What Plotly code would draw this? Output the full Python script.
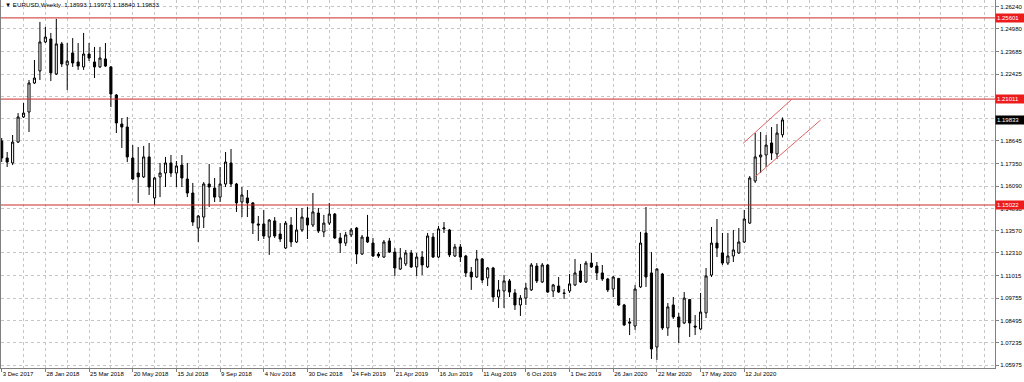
import plotly.graph_objects as go

# ---------------- data (weekly EURUSD, week index 0 = 3 Dec 2017) ----------------
week_index = list(range(144))

open_prices = [
    1.1864, 1.1768, 1.1740, 1.1858, 1.2000, 1.2028, 1.2192, 1.2260, 1.2424, 1.2441,
    1.2243, 1.2413, 1.2294, 1.2362, 1.2311, 1.2283, 1.2356, 1.2311, 1.2283, 1.2328,
    1.2283, 1.2124, 1.1960, 1.1943, 1.1768, 1.1683, 1.1661, 1.1774, 1.1542, 1.1661,
    1.1683, 1.1740, 1.1683, 1.1728, 1.1649, 1.1570, 1.1372, 1.1434, 1.1621, 1.1598,
    1.1547, 1.1621, 1.1740, 1.1621, 1.1519, 1.1542, 1.1514, 1.1395, 1.1395, 1.1321,
    1.1412, 1.1338, 1.1259, 1.1389, 1.1293, 1.1361, 1.1429, 1.1389, 1.1457, 1.1350,
    1.1400, 1.1451, 1.1316, 1.1287, 1.1333, 1.1372, 1.1225, 1.1321, 1.1287, 1.1225,
    1.1208, 1.1299, 1.1236, 1.1140, 1.1169, 1.1231, 1.1152, 1.1208, 1.1152, 1.1321,
    1.1208, 1.1367, 1.1361, 1.1214, 1.1265, 1.1214, 1.1123, 1.1095, 1.1197, 1.1090,
    1.1146, 1.0982, 1.1016, 1.1073, 1.1005, 1.0937, 1.0976, 1.1022, 1.1157, 1.1067,
    1.1163, 1.1016, 1.1044, 1.1005, 1.1016, 1.1050, 1.1129, 1.1067, 1.1174, 1.1157,
    1.1118, 1.1084, 1.1027, 1.1087, 1.0937, 1.0841, 1.0818, 1.1039, 1.1344, 1.1118,
    1.0699, 1.1112, 1.0807, 1.0937, 1.0869, 1.0835, 1.0968, 1.0818, 1.0801, 1.0892,
    1.1106, 1.1287, 1.1231, 1.1174, 1.1214, 1.1231, 1.1293, 1.1400, 1.1638, 1.1774,
    1.1785, 1.1853, 1.1791, 1.18993,
]

high_prices = [
    1.1881, 1.1802, 1.1898, 1.2022, 1.2079, 1.2209, 1.2322, 1.2537, 1.2509, 1.2475,
    1.2555, 1.2424, 1.2418, 1.2446, 1.2418, 1.2475, 1.2418, 1.2396, 1.2396, 1.2418,
    1.2288, 1.2130, 1.1994, 1.2000, 1.1841, 1.1830, 1.1836, 1.1853, 1.1661, 1.1740,
    1.1774, 1.1785, 1.1751, 1.1785, 1.1740, 1.1627, 1.1446, 1.1632, 1.1734, 1.1655,
    1.1717, 1.1802, 1.1819, 1.1627, 1.1604, 1.1587, 1.1519, 1.1440, 1.1474, 1.1423,
    1.1434, 1.1400, 1.1412, 1.1434, 1.1485, 1.1485, 1.1491, 1.1570, 1.1485, 1.1446,
    1.1514, 1.1457, 1.1344, 1.1350, 1.1372, 1.1378, 1.1333, 1.1446, 1.1316, 1.1236,
    1.1304, 1.1316, 1.1259, 1.1259, 1.1248, 1.1248, 1.1231, 1.1242, 1.1344, 1.1344,
    1.1384, 1.1406, 1.1367, 1.1282, 1.1282, 1.1220, 1.1152, 1.1248, 1.1203, 1.1152,
    1.1152, 1.1078, 1.1107, 1.1084, 1.1027, 1.0993, 1.1061, 1.1174, 1.1174, 1.1174,
    1.1169, 1.1056, 1.1095, 1.1027, 1.1112, 1.1197, 1.1169, 1.1186, 1.1231, 1.1180,
    1.1163, 1.1090, 1.1101, 1.1090, 1.0943, 1.0863, 1.1050, 1.1350, 1.1491, 1.1236,
    1.1146, 1.1118, 1.0948, 1.0982, 1.0892, 1.1010, 1.0971, 1.0880, 1.1005, 1.1146,
    1.1378, 1.1423, 1.1344, 1.1344, 1.1361, 1.1372, 1.1474, 1.1666, 1.1909, 1.1915,
    1.1898, 1.1943, 1.1960, 1.19973,
]

low_prices = [
    1.1745, 1.1717, 1.1728, 1.1853, 1.1994, 1.1915, 1.2186, 1.2209, 1.2418, 1.2203,
    1.2237, 1.2283, 1.2152, 1.2283, 1.2266, 1.2266, 1.2316, 1.2220, 1.2277, 1.2283,
    1.2056, 1.1909, 1.1825, 1.1745, 1.1644, 1.1514, 1.1655, 1.1559, 1.1502, 1.1547,
    1.1604, 1.1661, 1.1604, 1.1604, 1.1547, 1.1384, 1.1293, 1.1372, 1.1491, 1.1519,
    1.1519, 1.1604, 1.1604, 1.1463, 1.1434, 1.1434, 1.1338, 1.1299, 1.1310, 1.1220,
    1.1316, 1.1293, 1.1253, 1.1265, 1.1287, 1.1350, 1.1310, 1.1378, 1.1344, 1.1321,
    1.1389, 1.1310, 1.1231, 1.1270, 1.1321, 1.1169, 1.1220, 1.1287, 1.1208, 1.1203,
    1.1203, 1.1231, 1.1101, 1.1135, 1.1157, 1.1146, 1.1101, 1.1106, 1.1146, 1.1203,
    1.1203, 1.1344, 1.1208, 1.1208, 1.1180, 1.1095, 1.1022, 1.1090, 1.1061, 1.1044,
    1.0954, 1.0920, 1.0920, 1.0982, 1.0909, 1.0875, 1.0937, 1.1016, 1.1061, 1.1061,
    1.1005, 1.0982, 1.1005, 1.0971, 1.1005, 1.1044, 1.1061, 1.1061, 1.1146, 1.1078,
    1.1073, 1.1010, 1.0982, 1.0931, 1.0818, 1.0767, 1.0796, 1.1033, 1.1039, 1.0632,
    1.0626, 1.0796, 1.0762, 1.0858, 1.0722, 1.0829, 1.0756, 1.0767, 1.0796, 1.0863,
    1.1095, 1.1208, 1.1163, 1.1163, 1.1180, 1.1225, 1.1287, 1.1395, 1.1627, 1.1683,
    1.1717, 1.1757, 1.1762, 1.18840,
]

close_prices = [
    1.1768, 1.1745, 1.1858, 1.2000, 1.2022, 1.2192, 1.2220, 1.2424, 1.2452, 1.2249,
    1.2413, 1.2300, 1.2316, 1.2305, 1.2288, 1.2356, 1.2333, 1.2283, 1.2333, 1.2288,
    1.2130, 1.1966, 1.1943, 1.1774, 1.1649, 1.1661, 1.1774, 1.1604, 1.1655, 1.1683,
    1.1740, 1.1683, 1.1723, 1.1655, 1.1570, 1.1406, 1.1440, 1.1621, 1.1604, 1.1547,
    1.1621, 1.1745, 1.1621, 1.1514, 1.1559, 1.1514, 1.1400, 1.1389, 1.1327, 1.1417,
    1.1327, 1.1310, 1.1400, 1.1293, 1.1361, 1.1434, 1.1389, 1.1463, 1.1355, 1.1400,
    1.1451, 1.1316, 1.1287, 1.1333, 1.1361, 1.1225, 1.1321, 1.1293, 1.1214, 1.1214,
    1.1293, 1.1236, 1.1146, 1.1203, 1.1231, 1.1152, 1.1208, 1.1163, 1.1327, 1.1208,
    1.1367, 1.1372, 1.1220, 1.1265, 1.1208, 1.1118, 1.1095, 1.1197, 1.1078, 1.1146,
    1.0982, 1.1022, 1.1073, 1.1010, 1.0937, 1.0976, 1.1033, 1.1163, 1.1073, 1.1163,
    1.1010, 1.1050, 1.1010, 1.1002, 1.1056, 1.1118, 1.1067, 1.1174, 1.1152, 1.1118,
    1.1084, 1.1022, 1.1095, 1.0937, 1.0824, 1.0835, 1.1027, 1.1287, 1.1095, 1.0688,
    1.1140, 1.0807, 1.0926, 1.0869, 1.0812, 1.0976, 1.0835, 1.0812, 1.0897, 1.1101,
    1.1287, 1.1259, 1.1174, 1.1214, 1.1248, 1.1293, 1.1423, 1.1655, 1.1774, 1.1785,
    1.1841, 1.1796, 1.1909, 1.19833,
]

date_tick_pos = list(range(0, 137, 8))
date_tick_text = [
    "3 Dec 2017", "28 Jan 2018", "25 Mar 2018", "20 May 2018", "15 Jul 2018",
    "9 Sep 2018", "4 Nov 2018", "30 Dec 2018", "24 Feb 2019", "21 Apr 2019",
    "16 Jun 2019", "11 Aug 2019", "6 Oct 2019", "1 Dec 2019", "26 Jan 2020",
    "22 Mar 2020", "17 May 2020", "12 Jul 2020",
]
grid_week_pos = list(range(0, 184, 4))

price_ticks = [1.26240, 1.24980, 1.23685, 1.22425, 1.21165, 1.19905, 1.18645, 1.17350,
               1.16090, 1.14830, 1.13570, 1.12310, 1.11015, 1.09755, 1.08495, 1.07235, 1.05975]
# labels hidden behind the level boxes in the reference are left blank
hidden_tick_labels = [1.21165, 1.19905]
price_tick_text = ["" if v in hidden_tick_labels else "%.5f" % v for v in price_ticks]

level_prices = [1.25601, 1.21011, 1.15022]
current_price = 1.19833

channel_upper_x = [135.8, 144.7]
channel_upper_y = [1.1851, 1.2100]
channel_lower_x = [138.0, 150.0]
channel_lower_y = [1.1662, 1.1983]

title_text = "\u25BC EURUSD,Weekly  1.18993 1.19973 1.18840 1.19833"

# ---------------- figure ----------------
FONT = "Liberation Sans"
GRID = "#c6c6c6"
AXIS = "#808080"

fig = go.Figure()
fig.add_trace(go.Candlestick(
    x=week_index, open=open_prices, high=high_prices, low=low_prices, close=close_prices,
    increasing=dict(line=dict(color="black", width=1), fillcolor="white"),
    decreasing=dict(line=dict(color="black", width=1), fillcolor="black"),
    whiskerwidth=0, showlegend=False, hoverinfo="skip",
))

shapes = []
for lv in level_prices:
    shapes.append(dict(type="line", xref="paper", x0=0, x1=1, yref="y", y0=lv, y1=lv,
                       line=dict(color="#cc2b2b", width=1), layer="above"))
for xs, ys in ((channel_upper_x, channel_upper_y), (channel_lower_x, channel_lower_y)):
    shapes.append(dict(type="line", xref="x", yref="y", x0=xs[0], x1=xs[1], y0=ys[0], y1=ys[1],
                       line=dict(color="#dd6464", width=1), layer="above"))

annotations = [dict(
    text=title_text, xref="paper", yref="paper", x=0, y=1, xanchor="left", yanchor="top",
    xshift=2, yshift=1, showarrow=False, font=dict(family=FONT, size=6.2, color="black"),
)]
for lv in level_prices:
    annotations.append(dict(
        text="%.5f" % lv, xref="paper", x=1, xanchor="left", yref="y", y=lv, yanchor="middle",
        showarrow=False, bgcolor="#ec1c1c", borderpad=1, width=26, align="left",
        font=dict(family=FONT, size=6, color="white"),
    ))
annotations.append(dict(
    text="%.5f" % current_price, xref="paper", x=1, xanchor="left", yref="y", y=current_price,
    yanchor="middle", showarrow=False, bgcolor="black", borderpad=1, width=26, align="left",
    font=dict(family=FONT, size=6, color="white"),
))

fig.update_layout(
    width=1024, height=382,
    margin=dict(l=1, r=29, t=0, b=14, autoexpand=False),
    paper_bgcolor="white", plot_bgcolor="white",
    boxgap=0.45,
    hovermode=False,
    shapes=shapes,
    annotations=annotations,
    xaxis=dict(
        range=[-0.128, 181.92], rangeslider=dict(visible=False), automargin=False,
        tickmode="array", tickvals=date_tick_pos, ticktext=date_tick_text, tickangle=0,
        ticks="outside", ticklen=3, tickcolor=AXIS, ticklabelposition="outside right",
        tickfont=dict(family=FONT, size=6, color="black"),
        showgrid=True, gridcolor=GRID, griddash="3px,3px", gridwidth=1,
        minor=dict(tickmode="array", tickvals=grid_week_pos, showgrid=True, gridcolor=GRID,
                   griddash="3px,3px", gridwidth=1, ticks=""),
        showline=True, linecolor=AXIS, linewidth=1, zeroline=False, fixedrange=True,
    ),
    yaxis=dict(
        side="right", range=[1.05806, 1.26613], automargin=False,
        tickmode="array", tickvals=price_ticks, ticktext=price_tick_text,
        ticks="outside", ticklen=3, tickcolor=AXIS,
        tickfont=dict(family=FONT, size=6, color="black"),
        showgrid=True, gridcolor=GRID, griddash="3px,3px", gridwidth=1,
        showline=True, mirror=True, linecolor=AXIS, linewidth=1, zeroline=False, fixedrange=True,
    ),
)

fig.write_html("out.html", config={"displayModeBar": False, "staticPlot": True})
